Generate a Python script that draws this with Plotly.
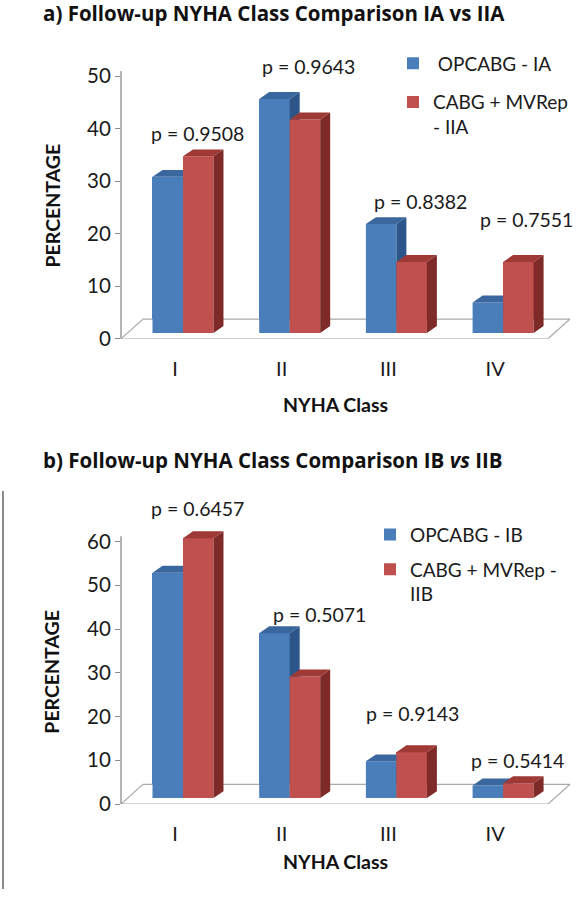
import plotly.graph_objects as go

# NYHA class categories
classes = ["I", "II", "III", "IV"]

# a) follow-up NYHA class, IA vs IIA (percent)
opcabg_ia = [29.7, 44.5, 20.7, 5.8]
cabg_mvrep_iia = [33.6, 40.6, 13.5, 13.5]
p_values_a = ["0.9508", "0.9643", "0.8382", "0.7551"]

# b) follow-up NYHA class, IB vs IIB (percent)
opcabg_ib = [51.5, 37.7, 8.4, 2.9]
cabg_mvrep_iib = [59.4, 27.8, 10.5, 3.4]
p_values_b = ["0.6457", "0.5071", "0.9143", "0.5414"]

yticks_a = [0, 10, 20, 30, 40, 50]
yticks_b = [0, 10, 20, 30, 40, 50, 60]

W, H = 583, 900
FONT = "Lato"
TITLE_FONT = "Open Sans"
TXT = "#1a1a1a"
GRAY = "#8c8c8c"
BLUE, BLUE_TOP, BLUE_SIDE = "#4a7ebb", "#3a679e", "#2c568a"
RED, RED_TOP, RED_SIDE = "#c0504d", "#9e3936", "#7d2a28"

# pixel geometry (shared horizontally by both panels)
X0_PX, X1_PX = 121, 578
CAT_PX = 106.7
X_START = -0.506
BAR_W_PX, SHIFT_PX = 30.5, 8
SIDE_DX_PX, SIDE_DY_PX = 10, 7
FLOOR_R_PX, FLOOR_DX_PX, FLOOR_DY_PX = 548, 22, 20
x_range = [X_START, X_START + (X1_PX - X0_PX) / CAT_PX]

# per panel layout (positions only)
panel_a = dict(y0_px=343, ppu=5.32, ymax=56, axis_top_px=72, base_px=6,
               p_dx=[0.21, 0.25, 0.30, 0.29], p_y=[39.1, 51.9, 26.1, 22.7],
               title_y=13, ytitle_y=208, xtitle_y=410,
               legend_x=393, legend_y=45, legend_gap=11)
panel_b = dict(y0_px=814, ppu=4.43, ymax=70, axis_top_px=543, base_px=6,
               p_dx=[0.21, 0.35, 0.23, 0.21], p_y=[67.5, 43.3, 20.8, 10.0],
               title_y=466, ytitle_y=680, xtitle_y=872,
               legend_x=370, legend_y=522, legend_gap=7)


def px_x(px):
    return px / W


def px_y(px):
    return 1 - px / H


fig = go.Figure()
annotations = []
shapes = []


def add_panel(sfx, geo, blue, red, names, pvals, title, legend_id):
    xa, ya = "x" + sfx, "y" + sfx
    ux = lambda p: p / CAT_PX
    uy = lambda p: p / geo["ppu"]
    base = uy(geo["base_px"])
    w = ux(BAR_W_PX)
    sdx, sdy = ux(SIDE_DX_PX), uy(SIDE_DY_PX)
    cats = list(range(len(classes)))

    # floor
    fl = X_START
    fr = X_START + ux(FLOOR_R_PX - X0_PX)
    fdx, fdy = ux(FLOOR_DX_PX), uy(FLOOR_DY_PX)
    fig.add_trace(go.Scatter(
        x=[fl, fr, fr + fdx, fl + fdx, fl], y=[0, 0, fdy, fdy, 0],
        mode="lines", fill="toself", fillcolor="white",
        line=dict(color="#ababab", width=1.2), showlegend=False,
        hoverinfo="skip", xaxis=xa, yaxis=ya))

    series = [(blue, names[0], BLUE, BLUE_TOP, BLUE_SIDE, -w / 2),
              (red, names[1], RED, RED_TOP, RED_SIDE, w / 2)]
    for vals, name, front, topc, sidec, off in series:
        xc = [c + ux(SHIFT_PX) + off for c in cats]
        # real bars (give the legend its squares)
        fig.add_trace(go.Bar(
            x=xc, y=vals, base=base, width=w, name=name,
            marker=dict(color=front, line=dict(width=0)),
            legend=legend_id, legendgroup=sfx + name,
            xaxis=xa, yaxis=ya))
        fx, fy, sx, sy, tx, ty = [], [], [], [], [], []
        for x, v in zip(xc, vals):
            xl, xr, top = x - w / 2, x + w / 2, base + v
            fx += [xl, xr, xr, xl, xl, None]
            fy += [base, base, top, top, base, None]
            sx += [xr, xr + sdx, xr + sdx, xr, xr, None]
            sy += [base, base + sdy, top + sdy, top, base, None]
            tx += [xl, xr, xr + sdx, xl + sdx, xl, None]
            ty += [top, top, top + sdy, top + sdy, top, None]
        for px_, py_, col in [(fx, fy, front), (sx, sy, sidec), (tx, ty, topc)]:
            fig.add_trace(go.Scatter(
                x=px_, y=py_, mode="lines", fill="toself", fillcolor=col,
                line=dict(width=0, color=col), showlegend=False,
                hoverinfo="skip", xaxis=xa, yaxis=ya))

    for c, p, dx, py in zip(cats, pvals, geo["p_dx"], geo["p_y"]):
        annotations.append(dict(
            x=c + dx, y=py, xref=xa, yref=ya, text="p = " + p,
            showarrow=False, font=dict(family=FONT, size=19.5, color=TXT)))

    annotations.append(dict(
        x=px_x(41), y=px_y(geo["title_y"]), xref="paper", yref="paper",
        xanchor="left", yanchor="middle", text=title, showarrow=False,
        font=dict(family=TITLE_FONT, size=20.5, color="#111111")))
    annotations.append(dict(
        x=px_x(52), y=px_y(geo["ytitle_y"]), xref="paper", yref="paper",
        xanchor="center", yanchor="middle",
        text="<b>PERCENTAGE</b>", textangle=-90, showarrow=False,
        font=dict(family=FONT, size=19.5, color="#111111")))
    annotations.append(dict(
        x=px_x(335), y=px_y(geo["xtitle_y"]), xref="paper", yref="paper",
        xanchor="center", yanchor="middle",
        text="<b>NYHA Class</b>", showarrow=False,
        font=dict(family=FONT, size=19.5, color="#111111")))

    # y axis line
    shapes.append(dict(type="line", xref="paper", yref="paper",
                       x0=px_x(X0_PX), x1=px_x(X0_PX),
                       y0=px_y(geo["y0_px"]), y1=px_y(geo["axis_top_px"]),
                       line=dict(color=GRAY, width=1.3)))

    top_px = geo["y0_px"] - geo["ymax"] * geo["ppu"]
    return (
        dict(domain=[px_x(X0_PX), px_x(X1_PX)], range=x_range, anchor=ya,
             tickvals=cats, ticktext=classes, ticks="", showline=False,
             showgrid=False, zeroline=False, ticklabelstandoff=16,
             tickfont=dict(family=FONT, size=20, color=TXT)),
        dict(domain=[px_y(geo["y0_px"]), px_y(top_px)], range=[0, geo["ymax"]],
             anchor=xa, showline=False, showgrid=False, zeroline=False,
             ticks="outside", ticklen=5, tickcolor=GRAY, tickwidth=1.2,
             tickfont=dict(family=FONT, size=20.5, color=TXT)),
        dict(x=px_x(geo["legend_x"]), y=px_y(geo["legend_y"]),
             xanchor="left", yanchor="top", valign="top",
             tracegroupgap=geo["legend_gap"],
             bgcolor="rgba(0,0,0,0)", font=dict(family=FONT, size=19, color=TXT)),
    )


xa1, ya1, lg1 = add_panel("", panel_a, opcabg_ia, cabg_mvrep_iia,
                          ["\u00a0OPCABG - IA", "CABG + MVRep<br>- IIA"], p_values_a,
                          "<b>a) Follow-up NYHA Class Comparison IA vs IIA</b>", "legend")
xa2, ya2, lg2 = add_panel("2", panel_b, opcabg_ib, cabg_mvrep_iib,
                          ["OPCABG - IB", "CABG + MVRep -<br>IIB"], p_values_b,
                          "<b>b) Follow-up NYHA Class Comparison IB <i>vs</i> IIB</b>", "legend2")
ya1["tickvals"] = yticks_a
ya2["tickvals"] = yticks_b

# grey border line at the left of panel b
shapes.append(dict(type="line", xref="paper", yref="paper",
                   x0=px_x(3), x1=px_x(3), y0=px_y(497), y1=0,
                   line=dict(color="#8a8a8a", width=2)))

fig.update_layout(
    width=W, height=H, margin=dict(l=0, r=0, t=0, b=0),
    paper_bgcolor="white", plot_bgcolor="rgba(0,0,0,0)",
    barmode="overlay", bargap=0, hovermode=False,
    xaxis=xa1, yaxis=ya1, xaxis2=xa2, yaxis2=ya2,
    legend=lg1, legend2=lg2,
    annotations=annotations, shapes=shapes,
)

# page body has a default margin; drop it so the figure fills the window
fig.write_html("out.html", config={"displayModeBar": False},
               post_script="document.body.style.margin='0';")
